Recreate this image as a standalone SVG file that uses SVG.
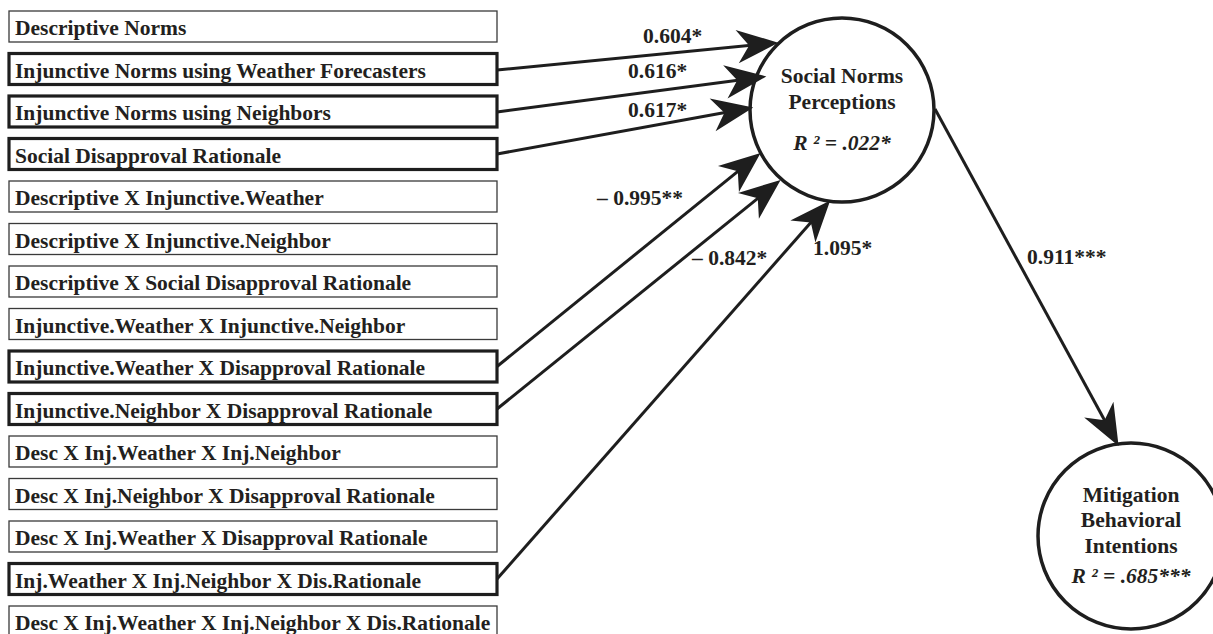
<svg xmlns="http://www.w3.org/2000/svg" width="1213" height="634" viewBox="0 0 1213 634">
<style>
text{font-family:"Liberation Serif","Times New Roman",serif;font-weight:bold;font-size:21.5px;fill:#231f20}
.it{font-style:italic}
.box{fill:#fff;stroke:#3a3a3a;stroke-width:1.3}
.thick{stroke:#1e1e1e;stroke-width:3.2}
.circ{fill:#fff;stroke:#1e1e1e;stroke-width:3.5}
.arr{fill:none;stroke:#1e1e1e;stroke-width:3;marker-end:url(#ah)}
.mid{text-anchor:middle}
</style>
<defs>
<marker id="ah" markerUnits="userSpaceOnUse" orient="auto" refX="0" refY="0" markerWidth="60" markerHeight="40" viewBox="-25 -15 40 30" overflow="visible">
<path d="M10,0 L-21,-12.5 L-12,0 L-21,12.5 Z" fill="#1e1e1e"/>
</marker>
</defs>
<rect width="1213" height="634" fill="#fff"/>
<g id="n1"><rect class="box" x="9" y="11" width="488" height="31"/><text x="15" y="35">Descriptive Norms</text></g>
<g id="n2"><rect class="box thick" x="9" y="53.5" width="488" height="31"/><text x="15" y="77.5">Injunctive Norms using Weather Forecasters</text></g>
<g id="n3"><rect class="box thick" x="9" y="96" width="488" height="31"/><text x="15" y="120">Injunctive Norms using Neighbors</text></g>
<g id="n4"><rect class="box thick" x="9" y="138.5" width="488" height="31"/><text x="15" y="162.5">Social Disapproval Rationale</text></g>
<g id="n5"><rect class="box" x="9" y="181" width="488" height="31"/><text x="15" y="205">Descriptive X Injunctive.Weather</text></g>
<g id="n6"><rect class="box" x="9" y="223.5" width="488" height="31"/><text x="15" y="247.5">Descriptive X Injunctive.Neighbor</text></g>
<g id="n7"><rect class="box" x="9" y="266" width="488" height="31"/><text x="15" y="290">Descriptive X Social Disapproval Rationale</text></g>
<g id="n8"><rect class="box" x="9" y="308.5" width="488" height="31"/><text x="15" y="332.5">Injunctive.Weather X Injunctive.Neighbor</text></g>
<g id="n9"><rect class="box thick" x="9" y="351" width="488" height="31"/><text x="15" y="375">Injunctive.Weather X Disapproval Rationale</text></g>
<g id="n10"><rect class="box thick" x="9" y="393.5" width="488" height="31"/><text x="15" y="417.5">Injunctive.Neighbor X Disapproval Rationale</text></g>
<g id="n11"><rect class="box" x="9" y="436" width="488" height="31"/><text x="15" y="460">Desc X Inj.Weather X Inj.Neighbor</text></g>
<g id="n12"><rect class="box" x="9" y="478.5" width="488" height="31"/><text x="15" y="502.5">Desc X Inj.Neighbor X Disapproval Rationale</text></g>
<g id="n13"><rect class="box" x="9" y="521" width="488" height="31"/><text x="15" y="545">Desc X Inj.Weather X Disapproval Rationale</text></g>
<g id="n14"><rect class="box thick" x="9" y="563.5" width="488" height="31"/><text x="15" y="587.5">Inj.Weather X Inj.Neighbor X Dis.Rationale</text></g>
<g id="n15"><rect class="box" x="9" y="606" width="488" height="31"/><text x="15" y="630">Desc X Inj.Weather X Inj.Neighbor X Dis.Rationale</text></g>
<g id="snp"><circle class="circ" cx="842" cy="110" r="92"/>
<text class="mid" x="842" y="83">Social Norms</text>
<text class="mid" x="842" y="109">Perceptions</text>
<text class="mid it" x="842" y="150">R ² = .022*</text></g>
<g id="mbi"><circle class="circ" cx="1131" cy="536" r="93"/>
<text class="mid" x="1131" y="502">Mitigation</text>
<text class="mid" x="1131" y="527">Behavioral</text>
<text class="mid" x="1131" y="553">Intentions</text>
<text class="mid it" x="1131" y="583">R ² = .685***</text></g>
<g id="connectors">
<line class="arr" x1="497" y1="70" x2="765.05" y2="43.97"/>
<line class="arr" x1="497" y1="112" x2="753.1" y2="78.2"/>
<line class="arr" x1="497" y1="154" x2="740.16" y2="109.79"/>
<line class="arr" x1="497" y1="366.5" x2="750.23" y2="161.3"/>
<line class="arr" x1="497" y1="409" x2="770.22" y2="188.28"/>
<line class="arr" x1="497" y1="579" x2="821.39" y2="210.51"/>
<line class="arr" x1="935" y1="109" x2="1112.2" y2="434.2"/>
<text x="643" y="43">0.604*</text>
<text x="628" y="78">0.616*</text>
<text x="628" y="117">0.617*</text>
<text x="597" y="205">– 0.995**</text>
<text x="692" y="265">– 0.842*</text>
<text x="813" y="255">1.095*</text>
<text x="1027" y="264">0.911***</text>
</g>
</svg>
